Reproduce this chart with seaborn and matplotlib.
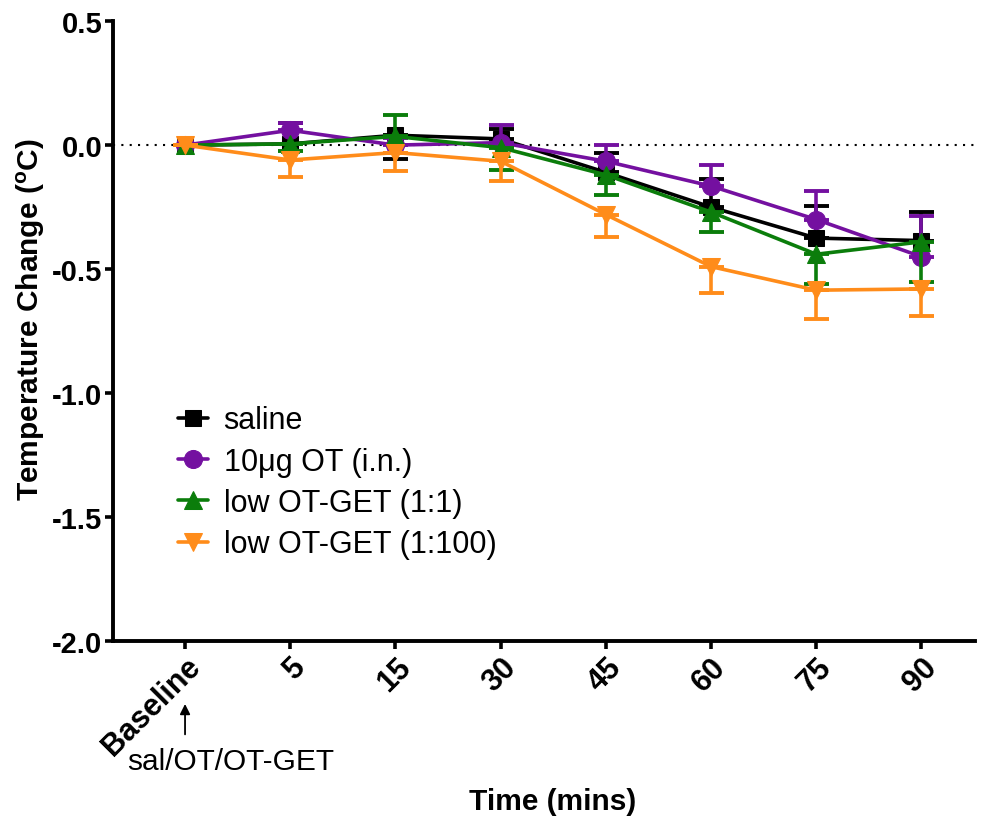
import matplotlib
matplotlib.use("Agg")
import matplotlib.pyplot as plt
import seaborn as sns
import pandas as pd
import numpy as np

categories = ["Baseline", "5", "15", "30", "45", "60", "75", "90"]
series_names = ["saline", "10\u03bcg OT (i.n.)", "low OT-GET (1:1)", "low OT-GET (1:100)"]

saline = [0.0, 0.005, 0.04, 0.025, -0.11, -0.25, -0.375, -0.385]
saline_lo = [0.0, 0.0, 0.095, 0.0, 0.0, 0.0, 0.0, 0.0]
saline_hi = [0.0, 0.085, 0.0, 0.04, 0.08, 0.115, 0.13, 0.115]

ot = [0.0, 0.06, 0.0, 0.01, -0.065, -0.165, -0.30, -0.45]
ot_lo = [0.0, 0.0, 0.0, 0.0, 0.0, 0.0, 0.0, 0.0]
ot_hi = [0.0, 0.03, 0.03, 0.07, 0.065, 0.085, 0.115, 0.165]

get11 = [0.0, 0.005, 0.035, -0.01, -0.12, -0.27, -0.44, -0.39]
get11_lo = [0.0, 0.03, 0.0, 0.09, 0.08, 0.08, 0.12, 0.16]
get11_hi = [0.0, 0.0, 0.085, 0.0, 0.0, 0.0, 0.0, 0.0]

get100 = [0.0, -0.06, -0.03, -0.065, -0.28, -0.49, -0.585, -0.58]
get100_lo = [0.0, 0.07, 0.075, 0.08, 0.09, 0.105, 0.115, 0.11]
get100_hi = [0.0, 0.0, 0.0, 0.0, 0.0, 0.0, 0.0, 0.0]

colors = ["#000000", "#7410A0", "#0B7D0B", "#FF8C1A"]
markers = ["s", "o", "^", "v"]
msizes = [12, 13, 13, 13]

sns.set_theme(style="ticks")
plt.rcParams["font.family"] = ["Liberation Sans", "DejaVu Sans"]
plt.rcParams["text.color"] = "black"
plt.rcParams["axes.labelcolor"] = "black"
plt.rcParams["xtick.color"] = "black"
plt.rcParams["ytick.color"] = "black"

values = [saline, ot, get11, get100]
los = [saline_lo, ot_lo, get11_lo, get100_lo]
his = [saline_hi, ot_hi, get11_hi, get100_hi]

rows = []
for name, vals in zip(series_names, values):
    for c, v in zip(categories, vals):
        rows.append({"Time": c, "Change": v, "Group": name})
df = pd.DataFrame(rows)

fig = plt.figure(figsize=(9.91, 8.2), dpi=100)
ax = fig.add_axes([0.114, 0.217, 0.870, 0.756])

ax.axhline(0, color="black", linestyle=(0, (1, 3)), linewidth=1.5, zorder=1)

for i, (name, vals, lo, hi) in enumerate(zip(series_names, values, los, his)):
    sub = df[df["Group"] == name]
    ax.errorbar(categories, vals, yerr=[lo, hi], fmt="none", ecolor=colors[i],
                elinewidth=2.6, capsize=9, capthick=2.8, zorder=2 + i * 2)
    sns.lineplot(data=sub, x="Time", y="Change", ax=ax, color=colors[i],
                 marker=markers[i], markersize=msizes[i], markeredgecolor=colors[i],
                 linewidth=2.6, label=name, sort=False, zorder=3 + i * 2)

ax.set_xlim(-0.685, 7.51)
ax.set_ylim(-2.0, 0.5)
ax.set_yticks([0.5, 0.0, -0.5, -1.0, -1.5, -2.0])
ax.set_yticklabels(["0.5", "0.0", "-0.5", "-1.0", "-1.5", "-2.0"])

for s in ["top", "right"]:
    ax.spines[s].set_visible(False)
for s in ["left", "bottom"]:
    ax.spines[s].set_linewidth(2.8)
    ax.spines[s].set_color("black")

ax.tick_params(axis="both", direction="out", length=6, width=2.6, color="black", pad=1.5)
for lab in ax.get_yticklabels():
    lab.set_fontsize(21)
    lab.set_fontweight("bold")
for lab in ax.get_xticklabels():
    lab.set_fontsize(22)
    lab.set_fontweight("bold")
    lab.set_rotation(45)
    lab.set_ha("right")
    lab.set_rotation_mode("anchor")

ax.set_ylabel("Temperature Change ($\\mathregular{^{o}}$C)", fontsize=21.5, fontweight="bold")
ax.yaxis.set_label_coords(-0.077, 0.52)
ax.set_xlabel("Time (mins)", fontsize=21.5, fontweight="bold")
ax.xaxis.set_label_coords(0.51, -0.235)

ax.annotate("", xy=(0, -0.097), xytext=(0, -0.155),
            xycoords=("data", "axes fraction"), textcoords=("data", "axes fraction"),
            arrowprops=dict(arrowstyle="-|>", lw=1.3, color="black", mutation_scale=15),
            annotation_clip=False)
ax.text(-0.55, -0.194, "sal/OT/OT-GET", transform=ax.get_xaxis_transform(),
        fontsize=21.5, ha="left", va="center", clip_on=False)

leg = ax.legend(loc="upper left", bbox_to_anchor=(0.061, 0.40), frameon=False,
                fontsize=22, handlelength=1.0, handletextpad=0.5, labelspacing=0.37,
                borderaxespad=0)

fig.savefig("out.png", dpi=100)
